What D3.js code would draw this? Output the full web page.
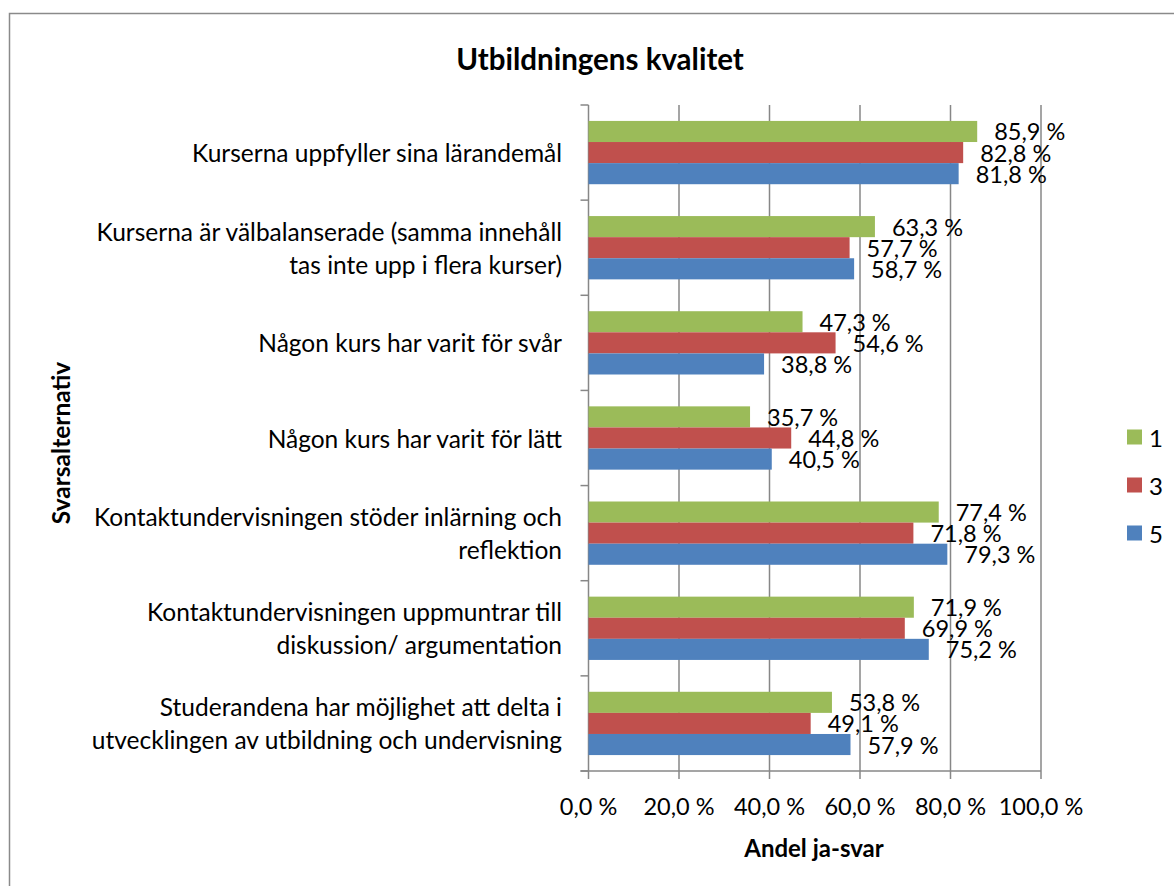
<!DOCTYPE html>
<html><head><meta charset="utf-8">
<script src="https://cdn.jsdelivr.net/npm/d3@7"></script>
<style>body{margin:0;background:#fff}svg{display:block}</style>
</head><body>
<svg id="chart" width="1174" height="886"></svg>
<script>
const title = "Utbildningens kvalitet";
const xTitle = "Andel ja-svar";
const yTitle = "Svarsalternativ";
const categories = [
  "Kurserna uppfyller sina lärandemål",
  "Kurserna är välbalanserade (samma innehåll\ntas inte upp i flera kurser)",
  "Någon kurs har varit för svår",
  "Någon kurs har varit för lätt",
  "Kontaktundervisningen stöder inlärning och\nreflektion",
  "Kontaktundervisningen uppmuntrar till\ndiskussion/ argumentation",
  "Studerandena har möjlighet att delta i\nutvecklingen av utbildning och undervisning"
];
const seriesNames = ["1", "3", "5"];
const series1 = [85.9, 63.3, 47.3, 35.7, 77.4, 71.9, 53.8];
const series3 = [82.8, 57.7, 54.6, 44.8, 71.8, 69.9, 49.1];
const series5 = [81.8, 58.7, 38.8, 40.5, 79.3, 75.2, 57.9];
const xTicks = [0, 20, 40, 60, 80, 100];
const colors = ["#9BBB59", "#C0504D", "#4F81BD"];

const allSeries = [series1, series3, series5];
const svg = d3.select("#chart");
const FONT = "Lato, 'Open Sans', sans-serif";
const GRID = "#878787";

const plot = {left: 588.5, right: 1041, top: 105, bottom: 771};
const x = d3.scaleLinear().domain([0, 100]).range([plot.left, plot.right]);
const y = d3.scaleBand().domain(d3.range(categories.length)).range([plot.top, plot.bottom]).padding(0);
const yi = d3.scaleBand().domain(seriesNames).range([0, y.bandwidth()]).paddingInner(0).paddingOuter(0.755);
const pct = v => d3.format(".1f")(v).replace(".", ",") + "\u00a0%";

// outer border
svg.append("rect").attr("x", 9.5).attr("y", 13.5).attr("width", 1200).attr("height", 900)
  .attr("fill", "#fff").attr("stroke", "#8a8a8a").attr("stroke-width", 1.5);

// title
svg.append("text").attr("x", 600).attr("y", 58).attr("text-anchor", "middle")
  .attr("dominant-baseline", "central").attr("font-family", FONT).attr("font-weight", "bold")
  .attr("font-size", 29.5).text(title);

// grid lines
svg.append("g").selectAll("line").data(xTicks.slice(1)).join("line")
  .attr("x1", d => x(d)).attr("x2", d => x(d)).attr("y1", plot.top).attr("y2", plot.bottom + 8)
  .attr("stroke", GRID).attr("stroke-width", 1.5);

// left axis
svg.append("line").attr("x1", plot.left).attr("x2", plot.left).attr("y1", plot.top).attr("y2", plot.bottom + 8)
  .attr("stroke", GRID).attr("stroke-width", 1.5);
const boundaries = d3.range(categories.length + 1).map(i => i < categories.length ? y(i) : plot.bottom);
svg.append("g").selectAll("line").data(boundaries).join("line")
  .attr("x1", plot.left - 8).attr("x2", plot.left).attr("y1", d => d).attr("y2", d => d)
  .attr("stroke", GRID).attr("stroke-width", 1.5);
// bottom axis
svg.append("line").attr("x1", plot.left - 8).attr("x2", plot.right).attr("y1", plot.bottom).attr("y2", plot.bottom)
  .attr("stroke", GRID).attr("stroke-width", 1.5);

// x tick labels
svg.append("g").selectAll("text").data(xTicks).join("text")
  .attr("x", d => x(d)).attr("y", 806).attr("text-anchor", "middle").attr("dominant-baseline", "central")
  .attr("font-family", FONT).attr("font-size", 23.5).attr("fill", "#000").text(d => pct(d));

// bars
const groups = svg.append("g").selectAll("g").data(allSeries).join("g")
  .attr("fill", (d, i) => colors[i]);
groups.each(function(vals, si) {
  d3.select(this).selectAll("rect").data(vals).join("rect")
    .attr("x", plot.left)
    .attr("y", (v, ci) => y(ci) + yi(seriesNames[si]))
    .attr("width", v => x(v) - x(0))
    .attr("height", yi.bandwidth());
});

// data labels
allSeries.forEach((vals, si) => {
  svg.append("g").selectAll("text").data(vals).join("text")
    .attr("x", v => x(v) + 17)
    .attr("y", (v, ci) => y(ci) + yi(seriesNames[si]) + yi.bandwidth() / 2)
    .attr("dominant-baseline", "central").attr("font-family", FONT).attr("font-size", 23.5)
    .text(v => pct(v));
});

// category labels
const cat = svg.append("g").selectAll("text").data(categories).join("text")
  .attr("text-anchor", "end").attr("font-family", FONT).attr("font-size", 24.5)
  .attr("x", 562);
cat.each(function(label, i) {
  const lines = label.split("\n");
  const lh = 33;
  const cy = y(i) + y.bandwidth() / 2;
  d3.select(this).selectAll("tspan").data(lines).join("tspan")
    .attr("x", 562)
    .attr("y", (l, j) => cy + (j - (lines.length - 1) / 2) * lh)
    .attr("dominant-baseline", "central")
    .text(l => l);
});

// axis titles
svg.append("text").attr("x", 814).attr("y", 847).attr("text-anchor", "middle")
  .attr("dominant-baseline", "central").attr("font-family", FONT).attr("font-weight", "bold")
  .attr("font-size", 24).text(xTitle);
svg.append("text").attr("transform", "translate(60,443) rotate(-90)").attr("text-anchor", "middle")
  .attr("dominant-baseline", "central").attr("font-family", FONT).attr("font-weight", "bold")
  .attr("font-size", 24.5).text(yTitle);

// legend
const legendY = [437, 485, 533];
const lg = svg.append("g").selectAll("g").data(seriesNames).join("g")
  .attr("transform", (d, i) => `translate(1127,${legendY[i]})`);
lg.append("rect").attr("x", 0).attr("y", -7.5).attr("width", 15).attr("height", 15).attr("fill", (d, i) => colors[i]);
lg.append("text").attr("x", 22).attr("y", 0).attr("dominant-baseline", "central")
  .attr("font-family", FONT).attr("font-size", 24).text(d => d);
</script>
</body></html>
